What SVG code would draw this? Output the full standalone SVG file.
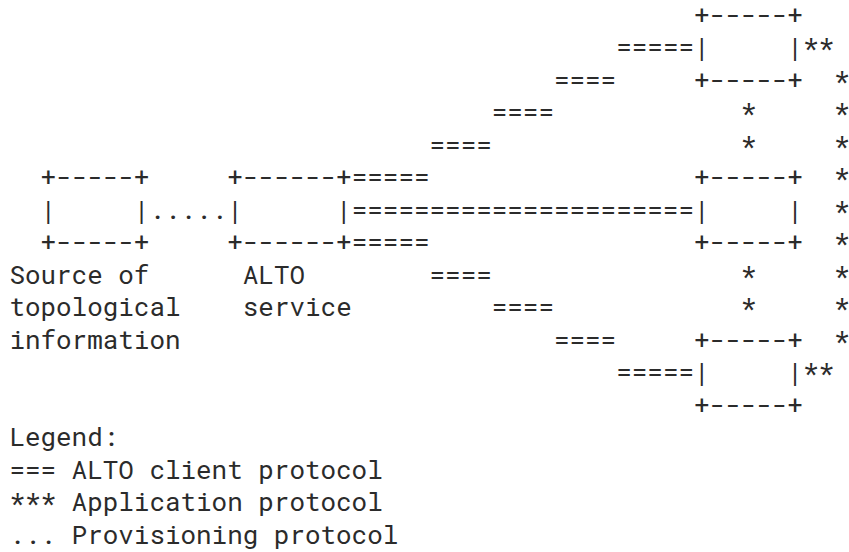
<svg xmlns="http://www.w3.org/2000/svg" width="849" height="552" viewBox="0 0 849 552">
<style>
text{font-family:"Roboto Mono","DejaVu Sans Mono","Liberation Mono",monospace;font-size:25.93px;fill:#2b2b2b;white-space:pre}
</style>
<rect width="849" height="552" fill="#fff"/>
<g id="source-node">
<text x="40.52" y="186" xml:space="preserve">+-----+</text>
<text x="40.52" y="218.5" xml:space="preserve">|     |</text>
<text x="40.52" y="251" xml:space="preserve">+-----+</text>
<text x="9.4" y="283.5" xml:space="preserve">Source of</text>
<text x="9.4" y="316">topological</text>
<text x="9.4" y="348.5">information</text>
</g>
<g id="alto-service">
<text x="227.24" y="186" xml:space="preserve">+------+</text>
<text x="227.24" y="218.5" xml:space="preserve">|      |</text>
<text x="227.24" y="251" xml:space="preserve">+------+</text>
<text x="242.8" y="283.5">ALTO</text>
<text x="242.8" y="316">service</text>
</g>
<g id="client-top">
<text x="694.04" y="23.5" xml:space="preserve">+-----+</text>
<text x="694.04" y="56" xml:space="preserve">|     |</text>
<text x="694.04" y="88.5" xml:space="preserve">+-----+</text>
</g>
<g id="client-middle">
<text x="694.04" y="186" xml:space="preserve">+-----+</text>
<text x="694.04" y="218.5" xml:space="preserve">|     |</text>
<text x="694.04" y="251" xml:space="preserve">+-----+</text>
</g>
<g id="client-bottom">
<text x="694.04" y="348.5" xml:space="preserve">+-----+</text>
<text x="694.04" y="381" xml:space="preserve">|     |</text>
<text x="694.04" y="413.5" xml:space="preserve">+-----+</text>
</g>
<g id="connectors">
<text x="149.44" y="218.5">.....</text>
<text x="616.24" y="56">=====</text>
<text x="553.96" y="88.5">====</text>
<text x="491.76" y="121">====</text>
<text x="429.52" y="153.5">====</text>
<text x="351.72" y="186">=====</text>
<text x="351.72" y="218.5">======================</text>
<text x="351.72" y="251">=====</text>
<text x="429.52" y="283.5">====</text>
<text x="491.76" y="316">====</text>
<text x="553.96" y="348.5">====</text>
<text x="616.24" y="381">=====</text>
<text x="802.96" y="56">**</text>
<text x="834.08" y="88.5">*</text>
<text x="740.72" y="121">*</text>
<text x="834.08" y="121">*</text>
<text x="740.72" y="153.5">*</text>
<text x="834.08" y="153.5">*</text>
<text x="834.08" y="186">*</text>
<text x="834.08" y="218.5">*</text>
<text x="834.08" y="251">*</text>
<text x="740.72" y="283.5">*</text>
<text x="834.08" y="283.5">*</text>
<text x="740.72" y="316">*</text>
<text x="834.08" y="316">*</text>
<text x="834.08" y="348.5">*</text>
<text x="802.96" y="381">**</text>
</g>
<g id="legend">
<text x="9.4" y="446">Legend:</text>
<text x="9.4" y="478.5" xml:space="preserve">=== ALTO client protocol</text>
<text x="9.4" y="511" xml:space="preserve">*** Application protocol</text>
<text x="9.4" y="543.5" xml:space="preserve">... Provisioning protocol</text>
</g>
</svg>
